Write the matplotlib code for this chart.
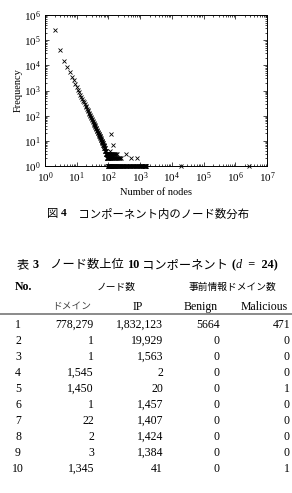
import matplotlib
matplotlib.use("Agg")
import matplotlib.pyplot as plt
from matplotlib.ticker import LogLocator, NullFormatter

plt.rcParams["font.family"] = ["Liberation Serif", "Noto Sans CJK JP"]
plt.rcParams["mathtext.fontset"] = "stix"

# component size (number of nodes) -> frequency
body_sizes = list(range(2, 100))
body_freqs = [
    250000, 40000, 15000, 8700, 5500, 3400, 2500, 1800, 1400,       # 2-10
    1080, 850, 690, 560, 470, 395, 335, 285, 250, 215,              # 11-20
    190, 168, 148, 132, 118, 106, 96, 87, 79, 72,                   # 21-30
    66, 60, 55, 51, 47, 44, 41, 38, 35, 33,                         # 31-40
    31, 29, 27, 25, 24, 22, 21, 20, 19, 18,                         # 41-50
    17, 16, 15, 15, 14, 13, 13, 12, 11, 11,                         # 51-60
    10, 10, 9, 9, 8, 8, 8, 7, 7, 7,                                 # 61-70
    6, 6, 6, 5, 5, 5, 5, 4, 4, 4,                                   # 71-80
    4, 3, 4, 3, 3, 3, 2, 3, 2, 3, 2, 2, 3, 2, 1, 2, 2, 1, 2,        # 81-99
]

tail3_sizes = [100, 104, 108, 112, 117, 122, 127, 133, 140, 147, 155, 164, 175, 188, 360]
tail2_sizes = [101, 106, 110, 115, 120, 126, 131, 138, 145, 152, 160, 170, 181,
               194, 208, 222, 238, 255, 520, 780]
outlier_sizes = [121, 136, 112]
outlier_freqs = [18, 7, 4]
tail1_sizes = [100, 102, 103, 105, 107, 109, 111, 113, 116, 118, 121, 124, 127, 129,
               132, 135, 139, 142, 146, 150, 154, 158, 163, 167, 172, 178, 183, 189,
               196, 202, 209, 216, 224, 232, 241, 250, 260, 270, 281, 293, 305, 318,
               332, 347, 362, 378, 395, 413, 432, 452, 473, 495, 518, 542, 567, 594,
               622, 651, 682, 714, 748, 783, 820, 859, 900, 943, 988, 1035, 1084,
               1136, 1190, 1247, 1306, 1345, 1386, 1387, 1426, 1429, 1458, 1470,
               1547, 1564, 19930, 2610402]

# table 3 data
rank = list(range(1, 11))
n_domain = ["778,279", "1", "1", "1,545", "1,450", "1", "22", "2", "3", "1,345"]
n_ip = ["1,832,123", "19,929", "1,563", "2", "20", "1,457", "1,407", "1,424", "1,384", "41"]
benign = ["5664", "0", "0", "0", "0", "0", "0", "0", "0", "0"]
malicious = ["471", "0", "0", "0", "1", "0", "0", "0", "0", "1"]

W, H = 292, 493
fig = plt.figure(figsize=(W / 100, H / 100), dpi=100)


def fx(px):
    return px / W


def fy(py):
    return 1 - py / H


def text_run(pieces, cx, py, fontsize):
    """Draw text pieces side by side, centred on cx (pixels)."""
    renderer = fig.canvas.get_renderer()
    arts, widths = [], []
    for s, kw in pieces:
        t = fig.text(0, fy(py), s, ha="left", va="center", fontsize=fontsize, **kw)
        widths.append(t.get_window_extent(renderer).width)
        arts.append(t)
    x = cx - sum(widths) / 2
    for t, w in zip(arts, widths):
        t.set_x(fx(x))
        x += w


ax = fig.add_axes([fx(45), fy(166), fx(267) - fx(45), fy(15) - fy(166)])

xs = body_sizes + tail3_sizes + tail2_sizes + outlier_sizes + tail1_sizes
ys = (body_freqs + [3] * len(tail3_sizes) + [2] * len(tail2_sizes)
      + outlier_freqs + [1] * len(tail1_sizes))
ax.plot(xs, ys, "x", color="black", markersize=3.2, mew=0.6, clip_on=False)

ax.set_xscale("log")
ax.set_yscale("log")
ax.set_xlim(1, 1e7)
ax.set_ylim(1, 1e6)
ax.xaxis.set_major_locator(LogLocator(base=10, numticks=20))
ax.yaxis.set_major_locator(LogLocator(base=10, numticks=20))
ax.xaxis.set_minor_locator(LogLocator(base=10, subs=range(2, 10), numticks=20))
ax.yaxis.set_minor_locator(LogLocator(base=10, subs=range(2, 10), numticks=20))
ax.xaxis.set_minor_formatter(NullFormatter())
ax.yaxis.set_minor_formatter(NullFormatter())
ax.tick_params(which="both", direction="in", top=True, right=True,
               labelsize=8, width=0.5, pad=3)
ax.tick_params(which="major", length=3)
ax.tick_params(which="minor", length=1.5)
for s in ax.spines.values():
    s.set_linewidth(0.7)
ax.set_xlabel("Number of nodes", fontsize=7.5, labelpad=2)
ax.set_ylabel("Frequency", fontsize=7.5, labelpad=1)

bold = {"fontweight": "bold"}
plain = {}
text_run([("図 ", plain), ("4", bold), ("　コンポーネント内のノード数分布", plain)],
         148, 214, 8.2)

text_run([("表 ", plain), ("3", bold), ("　ノード数上位 ", plain), ("10", bold),
          (" コンポーネント ", plain), ("(", bold), ("d", {"style": "italic"}),
          ("  =  24)", bold)],
         147, 265, 8.8)

fs = 8.5
fig.text(fx(15), fy(287), "No.", ha="left", va="center", fontsize=fs, fontweight="bold")
fig.text(fx(116), fy(287), "ノード数", ha="center", va="center", fontsize=7)
fig.text(fx(232), fy(287), "事前情報ドメイン数", ha="center", va="center", fontsize=7)
fig.text(fx(72), fy(307), "ドメイン", ha="center", va="center", fontsize=7, color="#444444")
fig.text(fx(138), fy(307), "IP", ha="center", va="center", fontsize=fs)
fig.text(fx(201), fy(307), "Benign", ha="center", va="center", fontsize=fs)
fig.text(fx(264), fy(307), "Malicious", ha="center", va="center", fontsize=fs)
fig.add_artist(plt.Line2D([0, 1], [fy(314), fy(314)], color="#777777", lw=1.2))

for i, r in enumerate(rank):
    y = fy(324.5 + 16 * i)
    fig.text(fx(18), y, str(r), ha="center", va="center", fontsize=fs)
    fig.text(fx(94), y, n_domain[i], ha="right", va="center", fontsize=fs)
    fig.text(fx(163), y, n_ip[i], ha="right", va="center", fontsize=fs)
    fig.text(fx(220), y, benign[i], ha="right", va="center", fontsize=fs)
    fig.text(fx(290), y, malicious[i], ha="right", va="center", fontsize=fs)

fig.savefig("out.png", dpi=100)
